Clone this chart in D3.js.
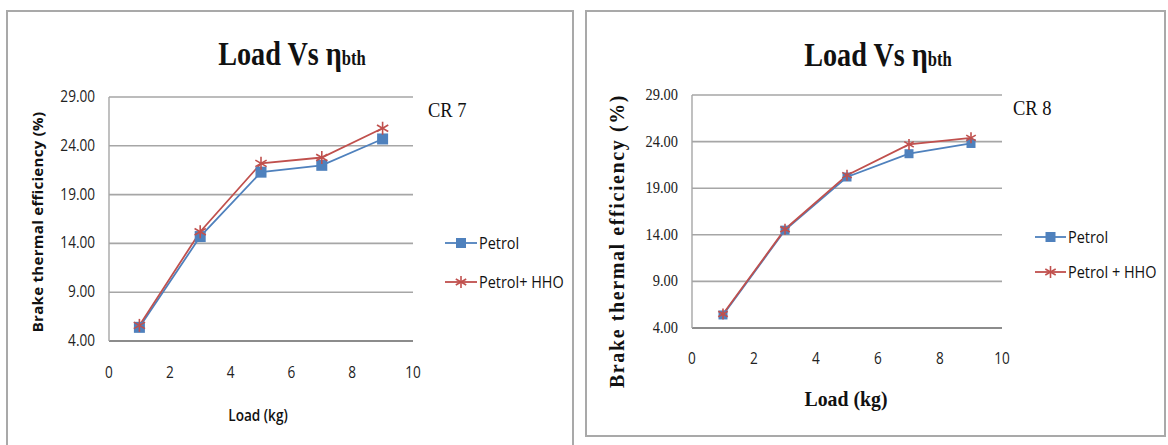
<!DOCTYPE html>
<html>
<head>
<meta charset="utf-8">
<script src="https://cdn.jsdelivr.net/npm/d3@7"></script>
<style>
  body { margin: 0; background: #fff; }
  svg { display: block; }
</style>
</head>
<body>
<svg id="chart" width="1168" height="445"></svg>
<script>
// data
const loads = [1, 3, 5, 7, 9];
const petrolCR7 = [5.4, 14.7, 21.3, 22.0, 24.7];
const hhoCR7 = [5.6, 15.2, 22.2, 22.8, 25.8];
const petrolCR8 = [5.4, 14.5, 20.2, 22.7, 23.8];
const hhoCR8 = [5.5, 14.6, 20.4, 23.7, 24.4];
const yTicks = [4, 9, 14, 19, 24, 29];
const xTicks = [0, 2, 4, 6, 8, 10];
const seriesNames = ["Petrol", "Petrol+ HHO"];
const seriesNames8 = ["Petrol", "Petrol + HHO"];

const BLUE = "#4f81bd", RED = "#c0504d";
const SANS = "'Open Sans', 'Noto Sans', sans-serif";
const SERIF = "'Liberation Serif', 'DejaVu Serif', serif";

const svg = d3.select("#chart");

function star(g, x, y, r) {
    for (let a = 0; a < 3; a++) {
        let ang = Math.PI / 2 + a * Math.PI / 3;
        g.append("line")
            .attr("x1", x - r * Math.cos(ang)).attr("y1", y - r * Math.sin(ang))
            .attr("x2", x + r * Math.cos(ang)).attr("y2", y + r * Math.sin(ang))
            .attr("stroke", RED).attr("stroke-width", 1.6);
    }
}

// narrow text: the picture uses a condensed face, so squeeze it a bit
function tr(x, y, sx) {
    return "translate(" + x + "," + y + ") scale(" + sx + ",1)";
}

function drawPanel(p) {
    let g = svg.append("g");
    g.append("rect")
        .attr("x", p.box[0]).attr("y", p.box[1]).attr("width", p.box[2]).attr("height", p.box[3])
        .attr("fill", "#fff").attr("stroke", "#a9a9a9").attr("stroke-width", 2);

    let x = d3.scaleLinear().domain([0, 10]).range([p.x0, p.x1]);
    let y = d3.scaleLinear().domain([4, 29]).range([p.y1, p.y0]);

    // grid lines
    g.selectAll(".grid").data(yTicks).enter().append("line")
        .attr("x1", p.x0).attr("x2", p.x1)
        .attr("y1", d => y(d)).attr("y2", d => y(d))
        .attr("stroke", d => d == 4 ? "#8c8c8c" : "#a6a6a6")
        .attr("stroke-width", d => d == 4 ? 2 : 1.6);
    g.append("line")
        .attr("x1", p.x0).attr("x2", p.x0).attr("y1", y(29)).attr("y2", y(4))
        .attr("stroke", "#a6a6a6").attr("stroke-width", 1.4);

    // y tick labels
    g.selectAll(".yl").data(yTicks).enter().append("text")
        .attr("transform", d => tr(p.yLabelX, y(d) + 5, p.tickScale))
        .attr("text-anchor", "end")
        .style("font-family", p.tickFont).style("font-size", p.tickSize + "px")
        .attr("fill", "#222")
        .text(d => d.toFixed(2));

    // x tick labels
    g.selectAll(".xl").data(xTicks).enter().append("text")
        .attr("transform", d => tr(x(d), p.xLabelY, 0.85))
        .attr("text-anchor", "middle")
        .style("font-family", SANS).style("font-size", "16px")
        .attr("fill", "#222")
        .text(d => d);

    // title
    let t = g.append("text")
        .attr("transform", tr(p.titleX, p.titleY, 0.83))
        .attr("text-anchor", "middle")
        .style("font-family", SERIF).style("font-weight", "bold").style("font-size", "34px")
        .attr("fill", "#111");
    t.append("tspan").text("Load Vs η");
    t.append("tspan").style("font-size", "20px").text("bth");

    // CR label
    g.append("text")
        .attr("transform", tr(p.crX, p.crY, 0.88))
        .style("font-family", SERIF).style("font-size", "21px").attr("fill", "#111")
        .text(p.cr);

    // axis titles
    g.append("text")
        .attr("transform", "translate(" + p.yTitleX + "," + p.yTitleY + ") rotate(-90)")
        .attr("text-anchor", "middle")
        .style("font-family", p.axisFont).style("font-weight", "bold")
        .style("font-size", p.yTitleSize + "px").style("letter-spacing", p.yTitleSpacing + "px")
        .attr("fill", "#111")
        .text("Brake thermal efficiency (%)");
    g.append("text")
        .attr("transform", tr(p.xTitleX, p.xTitleY, p.xTitleScale))
        .attr("text-anchor", "middle")
        .style("font-family", p.axisFont).style("font-weight", p.xTitleWeight)
        .style("font-size", p.xTitleSize + "px")
        .attr("fill", "#111")
        .text("Load (kg)");

    // lines
    let line = d3.line().x((d, i) => x(loads[i])).y(d => y(d));
    g.append("path").datum(p.petrol).attr("d", line)
        .attr("fill", "none").attr("stroke", BLUE).attr("stroke-width", 1.8);
    g.append("path").datum(p.hho).attr("d", line)
        .attr("fill", "none").attr("stroke", RED).attr("stroke-width", 1.8);

    let ms = p.markSize;
    g.selectAll(".sq").data(p.petrol).enter().append("rect")
        .attr("x", (d, i) => x(loads[i]) - ms / 2).attr("y", d => y(d) - ms / 2)
        .attr("width", ms).attr("height", ms).attr("fill", BLUE);
    p.hho.forEach((d, i) => star(g, x(loads[i]), y(d), ms / 2 + 1));

    // legend
    let lg = g.append("g");
    [0, 1].forEach(k => {
        let ly = p.legRows[k];
        lg.append("line").attr("x1", p.legX0).attr("x2", p.legX1).attr("y1", ly).attr("y2", ly)
            .attr("stroke", k == 0 ? BLUE : RED).attr("stroke-width", 1.8);
        let mx = (p.legX0 + p.legX1) / 2;
        if (k == 0) {
            lg.append("rect").attr("x", mx - 5).attr("y", ly - 5).attr("width", 10).attr("height", 10).attr("fill", BLUE);
        } else {
            star(lg, mx, ly, 6);
        }
        lg.append("text").attr("transform", tr(p.legX1 + 2, ly + 6, 0.85))
            .style("font-family", SANS).style("font-size", "17px").attr("fill", "#111")
            .text(p.names[k]);
    });
}

drawPanel({
    box: [7, 11, 566, 450],
    x0: 109, x1: 413, y0: 97, y1: 341,
    yLabelX: 95, tickFont: SANS, tickSize: 16, tickScale: 0.85, xLabelY: 378,
    titleX: 292, titleY: 65, cr: "CR 7", crX: 428, crY: 117,
    axisFont: SANS, yTitleX: 43, yTitleY: 222, yTitleSize: 15, yTitleSpacing: 0.3,
    xTitleX: 258, xTitleY: 421, xTitleSize: 16, xTitleScale: 0.85, xTitleWeight: 600,
    petrol: petrolCR7, hho: hhoCR7, markSize: 11,
    legX0: 445, legX1: 477, legRows: [243, 282], names: seriesNames
});

drawPanel({
    box: [586, 11, 579, 425],
    x0: 692, x1: 1002, y0: 95, y1: 328,
    yLabelX: 678, tickFont: SERIF, tickSize: 16, tickScale: 0.9, xLabelY: 364,
    titleX: 878, titleY: 66, cr: "CR 8", crX: 1013, crY: 115,
    axisFont: SERIF, yTitleX: 624, yTitleY: 241, yTitleSize: 20, yTitleSpacing: 1.6,
    xTitleX: 846, xTitleY: 406, xTitleSize: 22, xTitleScale: 0.9, xTitleWeight: "bold",
    petrol: petrolCR8, hho: hhoCR8, markSize: 9,
    legX0: 1035, legX1: 1066, legRows: [237, 272], names: seriesNames8
});
</script>
</body>
</html>
